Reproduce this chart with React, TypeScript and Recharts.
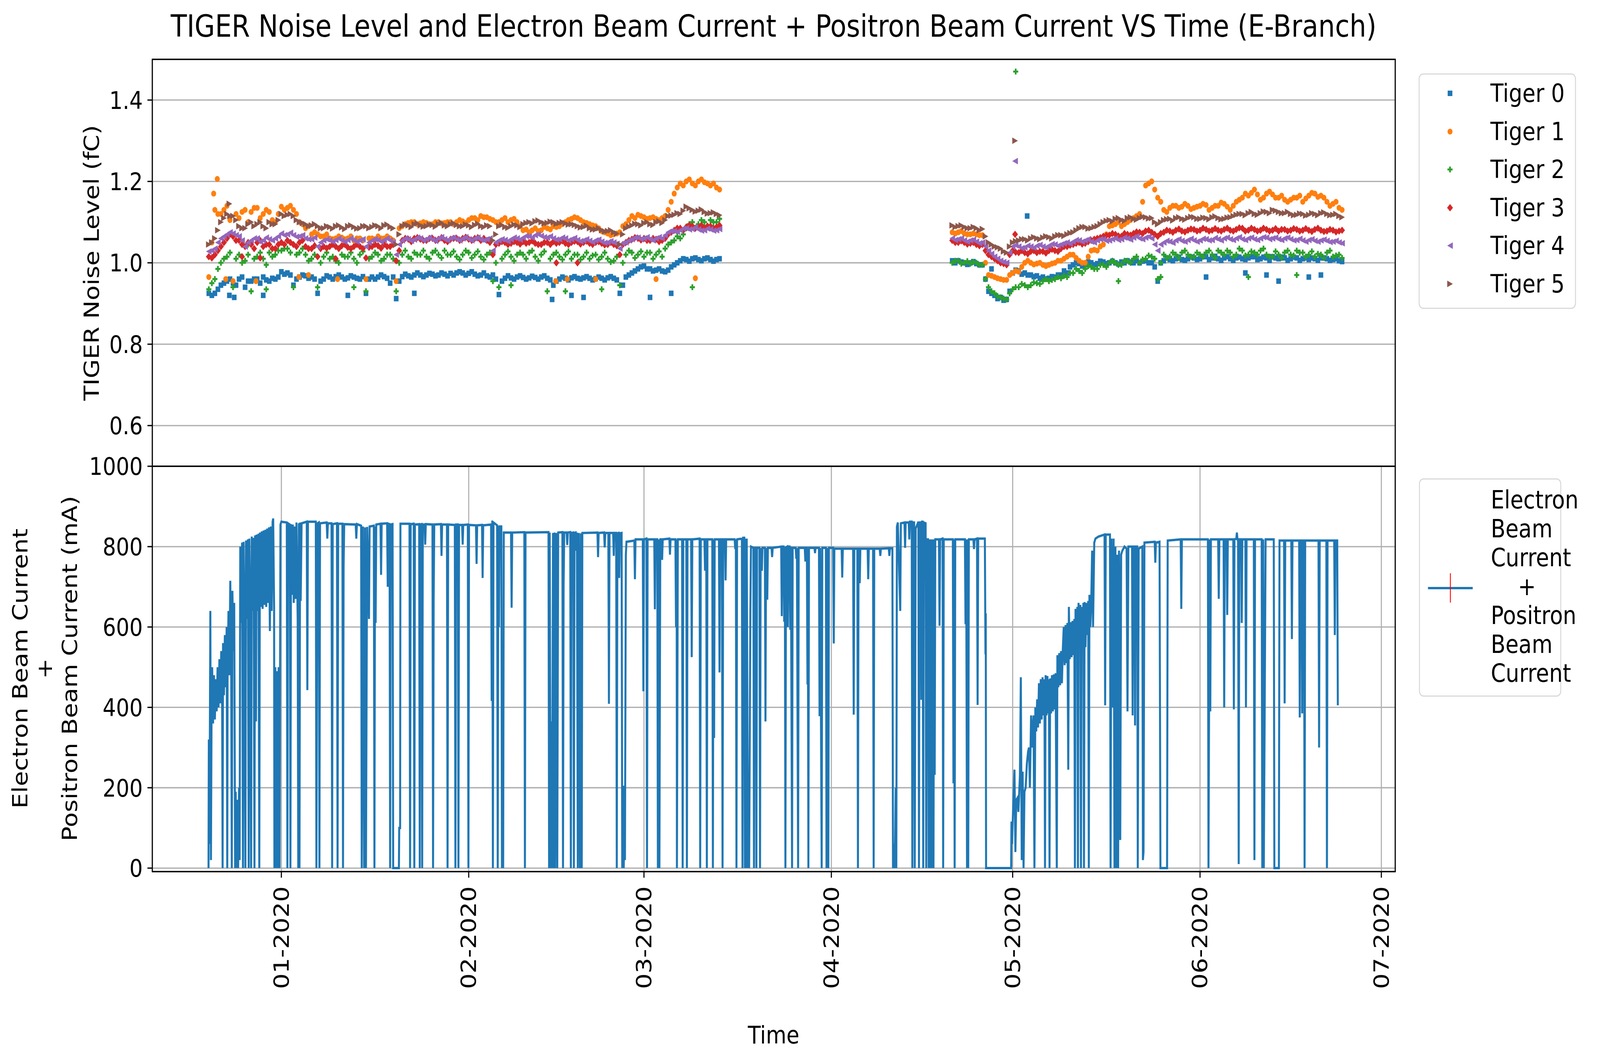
import React from 'react'
import {
  CartesianGrid,
  Label,
  Legend,
  Line,
  LineChart,
  ReferenceArea,
  Scatter,
  ScatterChart,
  XAxis,
  YAxis,
} from 'recharts'

const FONT = "'DejaVu Sans', sans-serif"
const CHART_W = 4790
const CHART_H = 2717

// x values are days since 2020-01-01
const X_DOMAIN: [number, number] = [-21.35, 184.3]
const monthStarts = ['2020-01-01', '2020-02-01', '2020-03-01', '2020-04-01', '2020-05-01', '2020-06-01', '2020-07-01']
const monthLabels = ['01-2020', '02-2020', '03-2020', '04-2020', '05-2020', '06-2020', '07-2020']
const noiseTicks = [0.6, 0.8, 1.0, 1.2, 1.4]
const beamTicks = [0, 200, 400, 600, 800, 1000]

// first run starts 2019-12-20, second run 2020-04-21; two readings a day (a at 00h, b at 12h)
const firstRunStart = -12
const secondRunStart = 111

const tiger0Run1a = [
  0.925, 0.925, 0.945, 0.955, 0.95, 0.96, 0.94, 0.955, 0.96, 0.965, 0.955, 0.96,
  0.978, 0.975, 0.945, 0.965, 0.968, 0.965, 0.925, 0.96, 0.965, 0.966,
  0.965, 0.963, 0.965, 0.96, 0.925, 0.965, 0.965, 0.966, 0.95, 0.912,
  0.966, 0.968, 0.97, 0.97, 0.97, 0.972, 0.97, 0.972, 0.974, 0.975,
  0.975, 0.974, 0.972, 0.97, 0.968, 0.97, 0.922, 0.962, 0.963, 0.965,
  0.964, 0.963, 0.964, 0.965, 0.962, 0.945, 0.96, 0.962, 0.963, 0.962,
  0.963, 0.962, 0.961, 0.962, 0.963, 0.962, 0.925, 0.965, 0.975, 0.985,
  0.992, 0.985, 0.982, 0.98, 0.982, 0.995, 1.005, 1.008, 1.01, 1.008,
  1.01, 1.008, 1.008,
]
const tiger0Run1b = [
  0.92, 0.935, 0.95, 0.96, 0.945, 0.965, 0.955, 0.96, 0.95, 0.958, 0.962, 0.965,
  0.972, 0.97, 0.96, 0.97, 0.962, 0.96, 0.955, 0.968, 0.96, 0.97,
  0.96, 0.968, 0.962, 0.966, 0.96, 0.96, 0.97, 0.962, 0.965, 0.955,
  0.972, 0.965, 0.975, 0.966, 0.974, 0.968, 0.975, 0.968, 0.97, 0.978,
  0.97, 0.978, 0.968, 0.975, 0.965, 0.96, 0.955, 0.968, 0.96, 0.968,
  0.96, 0.967, 0.96, 0.968, 0.958, 0.955, 0.965, 0.958, 0.966, 0.96,
  0.966, 0.958, 0.965, 0.958, 0.966, 0.958, 0.945, 0.97, 0.98, 0.99,
  0.985, 0.98, 0.985, 0.978, 0.99, 1.0, 1.01, 1.004, 1.012, 1.005,
  1.012, 1.004, 1.01,
]
const tiger0Run2a = [
  1.005, 1.005, 1.0, 1.0, 0.998, 0.995, 0.93, 0.92, 0.915, 0.91,
  0.975, 0.98, 0.975, 0.97, 0.968, 0.965, 0.962, 0.965, 0.97, 0.975,
  0.995, 0.998, 0.995, 1.0, 0.998, 1.002, 1.0, 1.0, 1.002, 1.005,
  1.0, 1.0, 1.005, 1.0, 0.955, 1.005, 1.008, 1.01, 1.008, 1.01,
  1.012, 1.01, 1.015, 1.012, 1.01, 1.012, 1.01, 1.012, 1.01, 1.012,
  1.015, 1.01, 1.012, 1.015, 1.01, 1.012, 1.01, 1.012, 1.01, 1.008,
  1.01, 1.012, 1.01, 1.008, 1.005,
]
const tiger0Run2b = [
  1.0, 1.002, 0.996, 1.003, 0.995, 0.96, 0.925, 0.912, 0.908, 0.93,
  0.982, 0.972, 0.97, 0.966, 0.962, 0.96, 0.966, 0.97, 0.98, 0.99,
  1.0, 0.992, 1.002, 0.995, 1.004, 0.998, 1.004, 0.997, 1.0, 1.002,
  1.005, 1.004, 1.0, 0.99, 1.0, 1.012, 1.005, 1.014, 1.006, 1.014,
  1.008, 1.016, 1.008, 1.016, 1.006, 1.015, 1.006, 1.014, 1.008, 1.015,
  1.008, 1.014, 1.006, 1.012, 1.014, 1.006, 1.014, 1.006, 1.012, 1.012,
  1.006, 1.012, 1.006, 1.01, 1.003,
]
const tiger0Extra: [number, number][] = [
  [-8.6, 0.92], [-7.8, 0.915], [-3, 0.92], [11, 0.92], [22, 0.925], [44.8, 0.91], [48, 0.92],
  [50, 0.915], [61, 0.915], [64.5, 0.925], [117.5, 0.985], [123.4, 1.115], [153, 0.965],
  [159.5, 0.975], [163, 0.97], [165, 0.955], [170, 0.965], [172, 0.97],
]

const tiger1Run1a = [
  0.965, 1.13, 1.12, 1.14, 0.955, 1.11, 1.13, 1.125, 1.135, 1.12, 1.125, 1.1,
  1.138, 1.135, 1.13, 1.1, 1.085, 1.07, 1.07, 1.065, 1.06, 1.06,
  1.062, 1.06, 1.055, 1.06, 0.96, 1.06, 1.065, 1.06, 1.06, 0.955,
  1.09, 1.098, 1.1, 1.097, 1.098, 1.095, 1.1, 1.098, 1.1, 1.1,
  1.102, 1.105, 1.11, 1.115, 1.112, 1.105, 1.1, 1.11, 1.105, 1.1,
  1.08, 1.075, 1.085, 1.08, 1.085, 1.09, 1.09, 1.1, 1.108, 1.11,
  1.1, 1.095, 1.09, 1.078, 1.072, 1.07, 1.075, 1.095, 1.115, 1.118,
  1.112, 1.11, 1.108, 1.11, 1.13, 1.17, 1.195, 1.2, 1.195, 1.2,
  1.198, 1.19, 1.185,
]
const tiger1Run1b = [
  1.05, 1.12, 1.13, 1.105, 1.12, 1.125, 1.1, 1.135, 1.11, 1.13, 1.105, 1.12,
  1.13, 1.14, 1.12, 1.095, 1.09, 1.075, 1.065, 1.07, 1.058, 1.065,
  1.058, 1.065, 1.06, 1.055, 1.06, 1.058, 1.06, 1.065, 1.055, 1.085,
  1.095, 1.1, 1.095, 1.1, 1.095, 1.1, 1.097, 1.1, 1.095, 1.105,
  1.098, 1.11, 1.105, 1.112, 1.108, 1.1, 1.105, 1.1, 1.108, 1.09,
  1.082, 1.08, 1.078, 1.088, 1.082, 1.088, 1.095, 1.105, 1.112, 1.105,
  1.098, 1.092, 1.085, 1.075, 1.068, 1.072, 1.09, 1.105, 1.11, 1.115,
  1.108, 1.112, 1.105, 1.115, 1.15, 1.185, 1.19, 1.205, 1.19, 1.205,
  1.195, 1.195, 1.18,
]
const tiger1Run2a = [
  1.075, 1.075, 1.072, 1.07, 1.07, 1.068, 0.97, 0.965, 0.96, 0.958,
  0.975, 0.978, 1.0, 1.0, 0.998, 0.995, 0.995, 1.0, 1.005, 1.015,
  1.02, 1.005, 1.0, 1.03, 1.03, 1.045, 1.09, 1.095, 1.09, 1.1,
  1.11, 1.12, 1.19, 1.2, 1.16, 1.13, 1.135, 1.14, 1.138, 1.14,
  1.135, 1.14, 1.142, 1.135, 1.14, 1.145, 1.13, 1.15, 1.16, 1.165,
  1.18, 1.155, 1.17, 1.168, 1.16, 1.155, 1.155, 1.16, 1.15, 1.165,
  1.17, 1.165, 1.15, 1.145, 1.135,
]
const tiger1Run2b = [
  1.072, 1.078, 1.07, 1.072, 1.068, 1.0, 0.968, 0.962, 0.958, 0.97,
  0.98, 0.99, 1.005, 0.996, 1.0, 0.992, 0.998, 1.005, 1.01, 1.02,
  1.012, 1.0, 1.015, 1.032, 1.04, 1.07, 1.092, 1.1, 1.095, 1.105,
  1.115, 1.15, 1.195, 1.18, 1.15, 1.125, 1.14, 1.135, 1.145, 1.132,
  1.138, 1.145, 1.13, 1.14, 1.148, 1.138, 1.14, 1.155, 1.17, 1.172,
  1.168, 1.16, 1.175, 1.16, 1.165, 1.15, 1.16, 1.165, 1.158, 1.172,
  1.162, 1.16, 1.14, 1.15, 1.13,
]
const tiger1Extra: [number, number][] = [
  [-11.2, 1.17], [-10.6, 1.206], [-9.2, 0.96], [-4.2, 0.955], [2.9, 0.965], [4.5, 0.97],
  [9.3, 0.96], [45.4, 0.955], [47.3, 0.96], [52, 0.96], [62, 0.96], [68.5, 0.962],
]

const tiger2Run1a = [
  0.935, 0.96, 1.0, 1.015, 0.94, 1.02, 1.005, 0.93, 1.015, 1.01, 1.025, 1.02,
  1.03, 1.035, 0.94, 1.025, 1.02, 1.01, 0.94, 1.015, 1.01, 1.005,
  1.02, 1.015, 1.01, 1.02, 0.93, 1.015, 1.02, 1.01, 1.02, 0.93,
  1.02, 1.015, 1.025, 1.02, 1.015, 1.025, 1.02, 1.03, 1.02, 1.015,
  1.02, 1.025, 1.02, 1.015, 1.02, 0.955, 0.94, 1.02, 1.015, 1.02,
  1.02, 1.025, 1.015, 1.02, 0.93, 1.02, 1.015, 1.02, 1.01, 1.02,
  1.015, 1.01, 1.02, 1.015, 1.01, 1.005, 0.945, 1.02, 1.025, 1.02,
  1.015, 1.025, 1.02, 1.015, 1.045, 1.055, 1.06, 1.085, 1.1, 1.095,
  1.1, 1.105, 1.1,
]
const tiger2Run1b = [
  0.95, 0.985, 1.01, 1.025, 1.01, 1.0, 1.02, 1.01, 1.025, 0.995, 1.015, 1.03,
  1.035, 1.025, 1.02, 1.035, 1.005, 1.02, 1.0, 1.025, 1.015, 1.0,
  1.015, 1.025, 1.0, 1.028, 1.01, 1.025, 1.005, 1.02, 1.01, 1.0,
  1.03, 1.01, 1.02, 1.03, 1.01, 1.03, 1.012, 1.02, 1.028, 1.008,
  1.03, 1.012, 1.028, 1.008, 1.025, 1.0, 1.01, 1.028, 1.005, 1.025,
  1.01, 1.03, 1.005, 1.028, 1.01, 1.025, 1.008, 1.028, 1.02, 1.008,
  1.025, 1.018, 1.008, 1.025, 1.002, 1.015, 1.0, 1.03, 1.012, 1.028,
  1.025, 1.01, 1.028, 1.035, 1.05, 1.065, 1.07, 1.095, 1.085, 1.105,
  1.09, 1.1, 1.108,
]
const tiger2Run2a = [
  1.0, 1.005, 1.0, 0.998, 1.0, 0.995, 0.94, 0.925, 0.915, 0.91,
  0.935, 0.94, 0.945, 0.945, 0.95, 0.955, 0.955, 0.96, 0.962, 0.965,
  0.975, 0.98, 0.985, 0.99, 0.985, 0.995, 1.0, 1.0, 0.995, 1.005,
  1.01, 1.0, 1.01, 1.015, 0.96, 1.02, 1.015, 1.02, 1.025, 1.02,
  1.015, 1.02, 1.025, 1.02, 1.03, 1.02, 1.025, 1.02, 1.03, 1.02,
  1.025, 1.03, 1.02, 1.015, 1.02, 1.025, 1.02, 1.03, 1.025, 1.02,
  1.015, 1.02, 1.025, 1.015, 1.02,
]
const tiger2Run2b = [
  1.005, 0.998, 1.004, 1.002, 0.995, 0.96, 0.93, 0.918, 0.912, 0.925,
  0.94, 0.948, 0.94, 0.952, 0.948, 0.96, 0.958, 0.965, 0.968, 0.975,
  0.985, 0.975, 0.992, 0.985, 0.995, 0.99, 1.005, 0.995, 1.005, 1.0,
  1.015, 1.008, 1.018, 1.01, 1.0, 1.012, 1.025, 1.012, 1.03, 1.015,
  1.025, 1.015, 1.03, 1.012, 1.025, 1.03, 1.015, 1.035, 1.018, 1.028,
  1.02, 1.035, 1.015, 1.028, 1.012, 1.03, 1.018, 1.025, 1.015, 1.028,
  1.022, 1.012, 1.03, 1.018, 1.012,
]
const tiger2Extra: [number, number][] = [
  [-5.5, 1.045], [1.5, 1.05], [-2.5, 0.935], [12, 0.94], [38, 0.945], [47, 0.93], [53, 0.935],
  [68, 0.94], [121.5, 1.47], [138.5, 0.955], [145.5, 0.965], [160, 0.965], [168, 0.97],
]

const tiger3Run1a = [
  1.015, 1.02, 1.04, 1.06, 1.065, 1.055, 1.04, 1.045, 1.05, 1.04, 1.045, 1.035,
  1.05, 1.055, 1.045, 1.05, 1.04, 1.035, 1.015, 1.04, 1.04, 1.04,
  1.042, 1.038, 1.04, 1.04, 1.012, 1.04, 1.042, 1.045, 1.04, 1.005,
  1.055, 1.058, 1.06, 1.058, 1.055, 1.06, 1.058, 1.055, 1.058, 1.06,
  1.06, 1.058, 1.06, 1.055, 1.055, 1.02, 1.048, 1.05, 1.048, 1.05,
  1.052, 1.05, 1.048, 1.045, 1.05, 1.052, 1.05, 1.048, 1.05, 1.052,
  1.05, 1.048, 1.05, 1.048, 1.045, 1.045, 1.02, 1.05, 1.058, 1.06,
  1.06, 1.055, 1.058, 1.055, 1.07, 1.08, 1.085, 1.088, 1.09, 1.088,
  1.085, 1.09, 1.088,
]
const tiger3Run1b = [
  1.012, 1.03, 1.05, 1.07, 1.055, 1.045, 1.05, 1.035, 1.055, 1.045, 1.035, 1.045,
  1.045, 1.05, 1.04, 1.055, 1.035, 1.042, 1.035, 1.036, 1.045, 1.035,
  1.045, 1.035, 1.045, 1.035, 1.038, 1.045, 1.036, 1.04, 1.045, 1.03,
  1.06, 1.052, 1.062, 1.055, 1.06, 1.055, 1.062, 1.052, 1.06, 1.055,
  1.063, 1.055, 1.062, 1.06, 1.05, 1.045, 1.052, 1.045, 1.052, 1.046,
  1.048, 1.054, 1.045, 1.05, 1.045, 1.048, 1.054, 1.045, 1.053, 1.046,
  1.053, 1.045, 1.052, 1.044, 1.05, 1.042, 1.045, 1.055, 1.062, 1.056,
  1.055, 1.06, 1.052, 1.06, 1.075, 1.085, 1.08, 1.092, 1.085, 1.092,
  1.09, 1.085, 1.092,
]
const tiger3Run2a = [
  1.055, 1.05, 1.05, 1.048, 1.045, 1.045, 1.02, 1.01, 1.0, 0.995,
  1.03, 1.025, 1.025, 1.028, 1.025, 1.028, 1.03, 1.03, 1.035, 1.04,
  1.045, 1.05, 1.048, 1.055, 1.06, 1.065, 1.068, 1.07, 1.065, 1.07,
  1.072, 1.075, 1.078, 1.075, 1.065, 1.075, 1.078, 1.08, 1.078, 1.08,
  1.082, 1.08, 1.082, 1.08, 1.08, 1.082, 1.08, 1.082, 1.085, 1.08,
  1.082, 1.08, 1.082, 1.08, 1.078, 1.082, 1.08, 1.082, 1.08, 1.08,
  1.082, 1.08, 1.078, 1.08, 1.078,
]
const tiger3Run2b = [
  1.05, 1.054, 1.046, 1.05, 1.042, 1.03, 1.015, 1.005, 0.998, 1.02,
  1.026, 1.03, 1.022, 1.03, 1.028, 1.024, 1.033, 1.028, 1.04, 1.043,
  1.048, 1.046, 1.052, 1.058, 1.062, 1.067, 1.072, 1.066, 1.072, 1.068,
  1.076, 1.072, 1.08, 1.07, 1.072, 1.08, 1.075, 1.083, 1.076, 1.083,
  1.078, 1.085, 1.078, 1.084, 1.078, 1.085, 1.078, 1.086, 1.078, 1.085,
  1.078, 1.085, 1.078, 1.084, 1.082, 1.078, 1.084, 1.078, 1.084, 1.077,
  1.085, 1.077, 1.082, 1.076, 1.08,
]
const tiger3Extra: [number, number][] = [
  [-6.5, 1.015], [-3.5, 1.012], [9, 1.01], [45.5, 1.0], [49, 1.0], [121.4, 1.07],
]

const tiger4Run1a = [
  1.028, 1.035, 1.06, 1.07, 1.072, 1.065, 1.04, 1.055, 1.06, 1.055, 1.058, 1.06,
  1.072, 1.07, 1.068, 1.065, 1.06, 1.058, 1.04, 1.055, 1.055, 1.056,
  1.055, 1.056, 1.055, 1.055, 1.04, 1.055, 1.056, 1.056, 1.055, 1.02,
  1.055, 1.058, 1.057, 1.06, 1.058, 1.057, 1.06, 1.058, 1.06, 1.058,
  1.06, 1.058, 1.06, 1.057, 1.058, 1.03, 1.055, 1.056, 1.058, 1.06,
  1.062, 1.065, 1.068, 1.066, 1.062, 1.06, 1.058, 1.06, 1.058, 1.056,
  1.055, 1.054, 1.055, 1.052, 1.05, 1.05, 1.035, 1.05, 1.058, 1.062,
  1.06, 1.058, 1.06, 1.06, 1.075, 1.078, 1.08, 1.085, 1.083, 1.082,
  1.08, 1.082, 1.08,
]
const tiger4Run1b = [
  1.03, 1.05, 1.065, 1.075, 1.068, 1.055, 1.05, 1.06, 1.052, 1.062, 1.055, 1.065,
  1.068, 1.074, 1.064, 1.068, 1.058, 1.062, 1.05, 1.058, 1.052, 1.06,
  1.052, 1.06, 1.052, 1.058, 1.05, 1.058, 1.052, 1.06, 1.05, 1.045,
  1.06, 1.054, 1.062, 1.055, 1.062, 1.054, 1.063, 1.055, 1.062, 1.055,
  1.063, 1.055, 1.062, 1.055, 1.06, 1.05, 1.058, 1.053, 1.062, 1.057,
  1.066, 1.062, 1.07, 1.063, 1.065, 1.057, 1.062, 1.055, 1.061, 1.053,
  1.058, 1.051, 1.057, 1.049, 1.053, 1.047, 1.048, 1.055, 1.062, 1.058,
  1.063, 1.055, 1.063, 1.068, 1.078, 1.076, 1.084, 1.082, 1.087, 1.079,
  1.084, 1.079, 1.083,
]
const tiger4Run2a = [
  1.06, 1.058, 1.055, 1.055, 1.052, 1.05, 1.03, 1.015, 1.005, 1.0,
  1.04, 1.04, 1.038, 1.04, 1.042, 1.04, 1.042, 1.045, 1.045, 1.05,
  1.052, 1.055, 1.055, 1.052, 1.055, 1.058, 1.055, 1.06, 1.058, 1.06,
  1.062, 1.06, 1.062, 1.06, 1.03, 1.05, 1.052, 1.055, 1.054, 1.056,
  1.055, 1.055, 1.058, 1.056, 1.058, 1.06, 1.058, 1.06, 1.058, 1.06,
  1.058, 1.06, 1.062, 1.06, 1.058, 1.06, 1.058, 1.056, 1.055, 1.056,
  1.054, 1.055, 1.054, 1.052, 1.05,
]
const tiger4Run2b = [
  1.056, 1.06, 1.052, 1.057, 1.048, 1.04, 1.022, 1.01, 1.002, 1.025,
  1.043, 1.036, 1.042, 1.037, 1.044, 1.038, 1.046, 1.042, 1.048, 1.047,
  1.056, 1.052, 1.058, 1.05, 1.058, 1.054, 1.058, 1.056, 1.062, 1.057,
  1.065, 1.058, 1.064, 1.045, 1.045, 1.054, 1.049, 1.058, 1.052, 1.059,
  1.052, 1.059, 1.055, 1.061, 1.055, 1.062, 1.056, 1.063, 1.056, 1.062,
  1.056, 1.063, 1.058, 1.062, 1.056, 1.062, 1.055, 1.059, 1.052, 1.058,
  1.052, 1.057, 1.051, 1.054, 1.048,
]
const tiger4Extra: [number, number][] = [[121.4, 1.25]]

const tiger5Run1a = [
  1.045, 1.06, 1.1, 1.12, 1.115, 1.09, 1.085, 1.1, 1.095, 1.09, 1.1, 1.095,
  1.12, 1.118, 1.115, 1.1, 1.095, 1.092, 1.09, 1.085, 1.088, 1.09,
  1.087, 1.09, 1.088, 1.085, 1.09, 1.088, 1.09, 1.092, 1.088, 1.045,
  1.09, 1.092, 1.095, 1.092, 1.09, 1.093, 1.095, 1.092, 1.095, 1.093,
  1.09, 1.092, 1.093, 1.09, 1.092, 1.055, 1.09, 1.088, 1.09, 1.092,
  1.095, 1.1, 1.102, 1.1, 1.098, 1.1, 1.098, 1.097, 1.095, 1.09,
  1.088, 1.085, 1.082, 1.08, 1.078, 1.075, 1.045, 1.085, 1.092, 1.095,
  1.098, 1.095, 1.1, 1.098, 1.115, 1.118, 1.12, 1.138, 1.13, 1.128,
  1.125, 1.122, 1.12,
]
const tiger5Run1b = [
  1.05, 1.08, 1.11, 1.115, 1.105, 1.085, 1.095, 1.09, 1.1, 1.085, 1.095, 1.105,
  1.115, 1.12, 1.105, 1.098, 1.09, 1.095, 1.085, 1.09, 1.084, 1.092,
  1.083, 1.092, 1.084, 1.09, 1.085, 1.092, 1.085, 1.094, 1.085, 1.07,
  1.094, 1.088, 1.097, 1.089, 1.094, 1.089, 1.098, 1.09, 1.097, 1.09,
  1.094, 1.088, 1.096, 1.088, 1.09, 1.07, 1.093, 1.086, 1.094, 1.088,
  1.098, 1.097, 1.104, 1.097, 1.101, 1.096, 1.1, 1.094, 1.093, 1.087,
  1.091, 1.082, 1.085, 1.077, 1.08, 1.072, 1.07, 1.089, 1.096, 1.092,
  1.1, 1.093, 1.102, 1.105, 1.116, 1.122, 1.128, 1.134, 1.126, 1.131,
  1.121, 1.124, 1.117,
]
const tiger5Run2a = [
  1.092, 1.09, 1.088, 1.085, 1.085, 1.083, 1.05, 1.04, 1.035, 1.025,
  1.05, 1.055, 1.058, 1.06, 1.06, 1.062, 1.063, 1.065, 1.068, 1.07,
  1.075, 1.085, 1.088, 1.085, 1.09, 1.1, 1.105, 1.108, 1.105, 1.11,
  1.108, 1.11, 1.112, 1.11, 1.095, 1.105, 1.108, 1.11, 1.108, 1.11,
  1.112, 1.108, 1.11, 1.112, 1.11, 1.108, 1.112, 1.118, 1.12, 1.122,
  1.12, 1.122, 1.125, 1.13, 1.125, 1.122, 1.12, 1.118, 1.12, 1.118,
  1.12, 1.122, 1.12, 1.118, 1.115,
]
const tiger5Run2b = [
  1.088, 1.092, 1.085, 1.088, 1.08, 1.065, 1.045, 1.038, 1.028, 1.04,
  1.053, 1.058, 1.055, 1.063, 1.058, 1.065, 1.06, 1.068, 1.066, 1.073,
  1.08, 1.088, 1.084, 1.088, 1.095, 1.103, 1.102, 1.11, 1.103, 1.112,
  1.106, 1.113, 1.109, 1.1, 1.1, 1.107, 1.104, 1.112, 1.106, 1.113,
  1.108, 1.111, 1.107, 1.114, 1.107, 1.111, 1.115, 1.12, 1.117, 1.125,
  1.118, 1.126, 1.122, 1.128, 1.122, 1.125, 1.117, 1.121, 1.116, 1.122,
  1.117, 1.124, 1.117, 1.12, 1.112,
]
const tiger5Extra: [number, number][] = [[-8.6, 1.145], [121.4, 1.3]]

// summed beam current, [day, mA]
const beamDec: [number, number][] = [
  [-12.05, 0], [-12.0, 320], [-11.9, 60], [-11.75, 640], [-11.65, 20], [-11.55, 380], [-11.45, 500],
  [-11.3, 360], [-11.15, 480], [-11.0, 370], [-10.85, 470], [-10.7, 390], [-10.55, 500], [-10.4, 400],
  [-10.25, 520], [-10.1, 410], [-9.95, 540], [-9.8, 420], [-9.72, 0], [-9.65, 560], [-9.5, 430],
  [-9.35, 580], [-9.2, 450], [-9.05, 600], [-8.95, 0], [-8.9, 470], [-8.75, 640], [-8.6, 480],
  [-8.45, 715], [-8.3, 520], [-8.2, 0], [-8.1, 690], [-7.95, 540], [-7.8, 660], [-7.65, 0],
  [-7.55, 190], [-7.45, 0], [-7.3, 170], [-7.15, 0], [-7.0, 200], [-6.9, 20],
  [-6.8, 800], [-6.65, 610], [-6.5, 810], [-6.35, 0], [-6.25, 812], [-6.1, 600], [-5.95, 0],
  [-5.85, 815], [-5.7, 620], [-5.55, 818], [-5.4, 0], [-5.3, 820], [-5.15, 630], [-5.0, 0],
  [-4.9, 825], [-4.75, 640], [-4.6, 822], [-4.45, 0], [-4.35, 828], [-4.2, 365], [-4.1, 830],
  [-3.95, 640], [-3.8, 832], [-3.65, 0], [-3.55, 835], [-3.4, 650], [-3.25, 838], [-3.1, 645],
  [-2.95, 840], [-2.8, 655], [-2.65, 842], [-2.5, 650], [-2.35, 845], [-2.2, 660], [-2.05, 848],
  [-1.9, 590], [-1.75, 850], [-1.6, 640], [-1.45, 862], [-1.35, 870], [-1.2, 650], [-1.15, 0],
  [-1.0, 500], [-0.85, 0], [-0.7, 490], [-0.56, 0], [-0.45, 500], [-0.3, 0], [-0.15, 855],
]
const beamJan: [number, number][] = [
  [0.0, 862], [0.9, 860], [1.0, 0], [1.1, 858], [1.4, 855], [1.5, 0], [1.6, 856], [1.75, 680],
  [1.9, 855], [2.05, 660], [2.2, 850], [2.35, 670], [2.5, 860], [2.7, 620], [2.8, 0], [2.9, 858],
  [3.0, 0], [3.1, 860], [3.2, 665], [3.35, 858], [4.2, 862], [4.3, 443], [4.4, 862], [5.7, 862],
  [5.8, 0], [5.9, 510], [6.0, 858], [6.2, 860], [6.3, 0], [6.4, 858], [7.5, 860], [7.6, 820], [7.7, 858],
  [8.3, 858], [8.4, 0], [8.5, 856], [9.2, 858], [9.3, 0], [9.4, 857], [10.1, 857], [10.2, 0], [10.3, 750],
  [10.4, 856], [12.3, 855], [12.4, 820], [12.5, 856], [13.2, 852], [13.3, 0], [13.5, 850], [13.7, 0],
  [13.85, 848], [14.0, 0], [14.2, 849], [14.5, 620], [14.6, 850], [15.3, 852], [15.4, 0], [15.5, 850],
  [15.6, 610], [15.7, 855], [16.4, 857], [16.5, 730], [16.6, 857], [17.5, 858], [17.6, 700], [17.7, 857],
  [17.9, 856], [18.0, 0], [18.1, 855], [18.4, 856], [18.5, 0], [19.45, 0], [19.5, 100], [19.65, 100],
  [19.7, 857], [21.2, 857], [21.3, 0], [21.4, 856], [21.9, 857], [22.0, 0], [22.1, 855], [22.8, 856],
  [22.9, 0], [23.0, 855], [23.2, 856], [23.3, 0], [23.4, 855], [23.7, 855], [23.8, 805], [23.9, 856],
  [25.0, 855], [25.1, 0], [25.2, 668], [25.3, 855], [26.4, 856], [26.5, 777], [26.6, 855], [27.4, 855],
  [27.5, 0], [27.6, 855], [28.7, 854], [28.8, 0], [28.9, 855], [29.2, 855], [29.3, 0], [29.4, 854],
  [29.9, 854], [30.0, 805], [30.1, 854], [30.85, 855], [30.95, 0],
]
const beamFeb: [number, number][] = [
  [31.05, 854], [32.2, 853], [32.3, 757], [32.4, 853], [33.2, 854], [33.3, 722], [33.4, 853], [34.7, 855],
  [34.8, 416], [34.9, 865], [35.0, 0], [35.1, 860], [35.7, 853], [35.8, 0], [35.9, 852], [36.0, 600],
  [36.1, 850], [36.4, 850], [36.5, 0], [36.6, 252], [36.7, 0], [36.8, 835], [38.0, 835], [38.1, 648],
  [38.2, 835], [40.2, 836], [40.3, 0], [40.4, 835], [44.2, 836], [44.3, 0], [44.4, 835], [44.55, 0],
  [44.7, 365], [44.8, 0], [44.95, 834], [45.05, 0], [45.2, 835], [45.3, 0], [45.5, 834], [45.65, 0],
  [45.8, 835], [46.5, 836], [46.6, 0], [46.7, 702], [46.8, 835], [47.2, 835], [47.3, 804], [47.4, 835],
  [47.8, 836], [47.9, 0], [48.0, 834], [48.3, 835], [48.4, 0], [48.5, 834], [48.7, 835], [48.8, 790],
  [48.9, 835], [49.05, 0], [49.2, 834], [49.4, 0], [49.55, 833], [49.7, 0], [49.8, 834], [52.3, 835],
  [52.4, 774], [52.5, 834], [53.4, 835], [53.5, 798], [53.6, 834], [54.1, 834], [54.2, 409], [54.3, 834],
  [54.9, 834], [55.0, 777], [55.1, 834], [55.4, 834], [55.5, 0], [55.6, 833], [55.8, 834], [55.9, 722],
  [56.0, 833], [56.3, 834], [56.4, 0], [56.55, 205], [56.65, 0], [56.75, 100], [56.85, 20], [57.0, 780],
  [57.1, 812], [58.4, 815], [58.5, 719], [58.6, 818], [59.0, 818],
]
const beamMar: [number, number][] = [
  [59.8, 818], [59.9, 440], [60.0, 818], [60.4, 820], [60.5, 0], [60.6, 818], [61.7, 818], [61.8, 644],
  [61.9, 818], [62.2, 818], [62.3, 0], [62.45, 818], [62.55, 0], [62.7, 818], [62.9, 818], [63.0, 767],
  [63.1, 818], [64.2, 820], [64.3, 780], [64.4, 818], [65.2, 818], [65.3, 600], [65.4, 818], [65.45, 0],
  [65.6, 818], [66.3, 818], [66.4, 0], [66.5, 818], [67.0, 818], [67.1, 0], [67.2, 818], [67.8, 818],
  [67.9, 525], [68.0, 818], [69.2, 820], [69.3, 0], [69.4, 818], [70.0, 818], [70.1, 740], [70.2, 818],
  [70.3, 818], [70.4, 0], [70.5, 818], [71.3, 818], [71.4, 0], [71.5, 818], [71.6, 324], [71.7, 818],
  [72.4, 818], [72.5, 487], [72.6, 818], [72.9, 818], [73.0, 0], [73.1, 818], [73.4, 818], [73.5, 716],
  [73.6, 818], [75.0, 818], [75.1, 794], [75.2, 818], [75.3, 0], [75.4, 818], [76.2, 820], [76.3, 0],
  [76.4, 822], [76.6, 822], [76.7, 0], [76.8, 820], [76.9, 0], [77.0, 820], [77.2, 0], [77.3, 184],
  [77.4, 0], [77.6, 640], [77.7, 800], [78.1, 797], [78.2, 0], [78.3, 797], [78.5, 797], [78.6, 0],
  [78.7, 797], [79.1, 797], [79.2, 0], [79.3, 797], [79.5, 740], [79.6, 797], [80.0, 797], [80.1, 365],
  [80.2, 797], [80.4, 668], [80.5, 797], [81.1, 797], [81.2, 774], [81.3, 797], [82.7, 800], [82.8, 627],
  [82.9, 800], [83.1, 800], [83.2, 613], [83.3, 800], [83.4, 0], [83.5, 798], [83.7, 800], [83.8, 600],
  [83.9, 800], [84.1, 800], [84.2, 593], [84.3, 800], [84.5, 0], [84.6, 797], [85.1, 797], [85.2, 770],
  [85.3, 797], [85.5, 0], [85.6, 797], [86.6, 797], [86.7, 763], [86.8, 797], [86.95, 797], [87.05, 457],
  [87.1, 797], [87.2, 0], [87.3, 797], [88.2, 797], [88.3, 784], [88.4, 797], [88.95, 797], [89.05, 378],
  [89.15, 797], [89.4, 0], [89.5, 797], [90.1, 797], [90.2, 0], [90.3, 797], [90.5, 0], [90.6, 797],
]
const beamApr: [number, number][] = [
  [91.3, 797], [91.4, 559], [91.5, 795], [92.7, 795], [92.8, 723], [92.9, 795], [94.6, 795], [94.7, 382],
  [94.8, 795], [95.3, 795], [95.4, 0], [95.5, 795], [95.6, 795], [95.7, 709], [95.8, 795], [97.0, 795],
  [97.1, 719], [97.2, 795], [97.9, 795], [98.0, 0], [98.1, 795], [99.0, 795], [99.1, 777], [99.2, 795],
  [100.5, 796], [100.6, 777], [100.7, 796], [101.1, 796], [101.2, 0], [101.35, 61], [101.5, 0],
  [101.65, 200], [101.75, 0], [101.85, 850], [102.0, 860], [102.4, 640], [102.5, 858], [103.1, 860],
  [103.2, 797], [103.3, 860], [103.8, 860], [103.9, 818], [104.0, 862], [104.3, 862], [104.4, 0],
  [104.55, 860], [104.7, 860], [104.8, 0], [104.95, 845], [105.4, 862], [105.5, 0], [105.6, 860],
  [105.8, 860], [105.9, 419], [106.0, 862], [106.1, 862], [106.2, 0], [106.3, 860], [106.6, 858],
  [106.7, 0], [106.8, 818], [107.0, 818], [107.1, 0], [107.2, 818], [107.3, 0], [107.45, 818], [107.6, 0],
  [107.75, 818], [107.9, 0], [108.0, 818], [108.1, 232], [108.2, 818], [108.8, 818], [108.9, 603],
  [109.0, 818], [109.4, 820], [109.5, 0], [109.6, 818], [111.1, 818], [111.2, 211], [111.3, 818],
  [111.4, 0], [111.5, 818], [113.1, 818], [113.2, 607], [113.3, 818], [113.45, 0], [113.55, 818],
  [113.65, 0], [113.75, 818], [114.5, 818], [114.6, 794], [114.7, 818], [115.1, 820], [115.2, 406],
  [115.3, 820], [116.4, 820], [116.5, 532], [116.55, 634], [116.6, 0], [120.75, 0], [120.8, 116],
  [120.9, 60],
]
const beamMay: [number, number][] = [
  [121.1, 160], [121.3, 245], [121.45, 40], [121.6, 170], [121.8, 175], [121.95, 140], [122.2, 230],
  [122.35, 475], [122.5, 20], [122.65, 240], [122.8, 0], [122.95, 190], [123.15, 200], [123.35, 260],
  [123.55, 290], [123.7, 300], [123.85, 200], [124.05, 380], [124.25, 300], [124.45, 380], [124.6, 0],
  [124.75, 400], [124.9, 340], [125.05, 420], [125.2, 350], [125.35, 460], [125.5, 360], [125.65, 470],
  [125.8, 370], [125.95, 475], [126.1, 380], [126.25, 470], [126.35, 0], [126.45, 480], [126.6, 380],
  [126.75, 478], [126.9, 385], [127.0, 470], [127.1, 0], [127.2, 472], [127.35, 385], [127.5, 480],
  [127.65, 390], [127.8, 482], [127.95, 395], [128.1, 485], [128.3, 0], [128.4, 530], [128.55, 450],
  [128.7, 535], [128.85, 455], [129.0, 540], [129.15, 460], [129.3, 545], [129.45, 600], [129.6, 505],
  [129.75, 605], [129.9, 510], [130.05, 610], [130.2, 245], [130.3, 650], [130.45, 520], [130.6, 612],
  [130.75, 525], [130.9, 615], [131.05, 530], [131.2, 620], [131.3, 0], [131.4, 645], [131.55, 560],
  [131.7, 650], [131.8, 0], [131.9, 660], [132.05, 565], [132.2, 655], [132.3, 0], [132.4, 650],
  [132.55, 570], [132.7, 660], [132.8, 0], [132.9, 662], [133.05, 550], [133.2, 660], [133.35, 580],
  [133.5, 665], [133.6, 0], [133.7, 680], [133.85, 600], [134.0, 665], [134.15, 790], [134.3, 600],
  [134.5, 810], [134.7, 820], [135.2, 825], [136.2, 830], [136.3, 405], [136.4, 830], [137.1, 830],
  [137.2, 0], [137.35, 820], [137.55, 400], [137.7, 820], [137.85, 0], [138.0, 800], [138.15, 0],
  [138.3, 780], [138.45, 0], [138.6, 790], [138.8, 70], [138.95, 780], [139.15, 790], [139.5, 800],
  [139.85, 795], [140.0, 390], [140.15, 800], [140.75, 800], [140.85, 380], [140.95, 800], [141.15, 800],
  [141.25, 355], [141.35, 800], [141.6, 800], [141.7, 0], [141.85, 795], [142.45, 800], [142.55, 20],
  [142.65, 40], [142.8, 810], [144.5, 812], [144.6, 760], [144.7, 810], [145.3, 812], [145.45, 0],
  [146.55, 0], [146.65, 815], [148.8, 818], [148.9, 645], [149.0, 818], [151.0, 818],
]
const beamJun: [number, number][] = [
  [153.3, 818], [153.4, 0], [153.6, 818], [153.7, 390], [153.8, 818], [155.0, 818], [155.1, 670],
  [155.2, 818], [155.9, 818], [156.0, 400], [156.1, 818], [156.4, 818], [156.5, 630], [156.6, 818],
  [157.5, 818], [157.6, 395], [157.7, 818], [158.0, 820], [158.1, 835], [158.2, 818], [158.3, 818],
  [158.4, 10], [158.5, 818], [158.8, 818], [158.9, 610], [159.0, 818], [159.5, 818], [159.6, 400],
  [159.7, 818], [160.9, 818], [161.0, 20], [161.1, 818], [162.2, 818], [162.3, 0], [162.45, 818],
  [162.55, 0], [162.7, 390], [162.85, 818], [164.2, 818], [164.3, 0], [165.05, 0], [165.15, 815],
  [165.9, 815], [166.0, 410], [166.1, 815], [167.1, 815], [167.2, 570], [167.3, 815], [168.4, 815],
  [168.5, 375], [168.6, 815], [168.8, 815], [168.9, 385], [169.0, 815], [169.2, 815], [169.3, 0],
  [169.4, 815], [171.6, 815], [171.7, 300], [171.8, 815], [172.9, 815], [173.0, 0], [173.1, 815],
  [174.2, 815], [174.3, 580], [174.4, 815], [174.7, 815], [174.8, 405],
]

const dayOf = (iso: string) => (Date.parse(iso) - Date.parse('2020-01-01')) / 86400000
const monthTicks = monthStarts.map(dayOf)
const dailyTicks: number[] = []
for (let d = Math.ceil(X_DOMAIN[0]); d <= Math.floor(X_DOMAIN[1]); d++) dailyTicks.push(d)

type Pt = { x: number; y: number }
const runPoints = (start: number, values: number[]): Pt[] => values.map((y, i) => ({ x: start + i, y }))
const pairPoints = (pairs: [number, number][]): Pt[] => pairs.map(([x, y]) => ({ x, y }))
const seriesPoints = (r1a: number[], r1b: number[], r2a: number[], r2b: number[], extra: [number, number][]) => [
  ...runPoints(firstRunStart, r1a),
  ...runPoints(firstRunStart + 0.5, r1b),
  ...runPoints(secondRunStart, r2a),
  ...runPoints(secondRunStart + 0.5, r2b),
  ...pairPoints(extra),
]

type MarkerKind = 'square' | 'circle' | 'plus' | 'diamond' | 'left' | 'right'

const tigers: { name: string; color: string; kind: MarkerKind; data: Pt[] }[] = [
  { name: 'Tiger 0', color: '#1f77b4', kind: 'square', data: seriesPoints(tiger0Run1a, tiger0Run1b, tiger0Run2a, tiger0Run2b, tiger0Extra) },
  { name: 'Tiger 1', color: '#ff7f0e', kind: 'circle', data: seriesPoints(tiger1Run1a, tiger1Run1b, tiger1Run2a, tiger1Run2b, tiger1Extra) },
  { name: 'Tiger 2', color: '#2ca02c', kind: 'plus', data: seriesPoints(tiger2Run1a, tiger2Run1b, tiger2Run2a, tiger2Run2b, tiger2Extra) },
  { name: 'Tiger 3', color: '#d62728', kind: 'diamond', data: seriesPoints(tiger3Run1a, tiger3Run1b, tiger3Run2a, tiger3Run2b, tiger3Extra) },
  { name: 'Tiger 4', color: '#9467bd', kind: 'left', data: seriesPoints(tiger4Run1a, tiger4Run1b, tiger4Run2a, tiger4Run2b, tiger4Extra) },
  { name: 'Tiger 5', color: '#8c564b', kind: 'right', data: seriesPoints(tiger5Run1a, tiger5Run1b, tiger5Run2a, tiger5Run2b, tiger5Extra) },
]

const beamData = pairPoints([...beamDec, ...beamJan, ...beamFeb, ...beamMar, ...beamApr, ...beamMay, ...beamJun])

function Marker({ kind, color, cx, cy }: { kind: MarkerKind; color: string; cx: number; cy: number }) {
  if (cx == null || cy == null || isNaN(cx) || isNaN(cy)) return <g />
  switch (kind) {
    case 'square':
      return <rect x={cx - 7} y={cy - 7} width={14} height={14} fill={color} />
    case 'circle':
      return <circle cx={cx} cy={cy} r={7.5} fill={color} />
    case 'plus':
      return <path d={`M${cx - 2.6},${cy - 7.6}h5.2v5h5v5.2h-5v5h-5.2v-5h-5v-5.2h5z`} fill={color} />
    case 'diamond':
      return <path d={`M${cx},${cy - 9.4}L${cx + 8.8},${cy}L${cx},${cy + 9.4}L${cx - 8.8},${cy}Z`} fill={color} />
    case 'left':
      return <path d={`M${cx - 8.4},${cy}L${cx + 8.4},${cy - 8.4}L${cx + 8.4},${cy + 8.4}Z`} fill={color} />
    default:
      return <path d={`M${cx + 8.4},${cy}L${cx - 8.4},${cy - 8.4}L${cx - 8.4},${cy + 8.4}Z`} fill={color} />
  }
}

const axisText = { fontSize: 63, fill: '#000', fontFamily: FONT }
const tickStroke = { stroke: '#000', strokeWidth: 3.3 }

function MonthTick(props: any) {
  const { x, y, payload } = props
  const i = monthTicks.indexOf(payload.value)
  return (
    <text
      transform={`translate(${x},${y}) rotate(-90)`}
      textAnchor="end"
      dominantBaseline="central"
      fontSize={63}
      fontFamily={FONT}
      fill="#000"
    >
      {monthLabels[i]}
    </text>
  )
}

function TigerLegend() {
  return (
    <div
      style={{
        width: 471,
        height: 603,
        boxSizing: 'border-box',
        border: '3.3px solid #d9d9d9',
        borderRadius: 14,
        background: 'rgba(255,255,255,0.8)',
        position: 'relative',
        fontFamily: FONT,
        fontSize: 64,
        color: '#000',
      }}
    >
      {tigers.map((t, i) => (
        <div key={t.name} style={{ position: 'absolute', left: 0, top: 48 + i * 97.6 - 40, height: 80, width: 471 }}>
          <svg width={200} height={80} style={{ position: 'absolute', left: 0, top: 0 }}>
            <Marker kind={t.kind} color={t.color} cx={91} cy={40} />
          </svg>
          <div style={{ position: 'absolute', left: 212, top: 0, height: 80, lineHeight: '80px', whiteSpace: 'nowrap' }}>
            {t.name}
          </div>
        </div>
      ))}
    </div>
  )
}

const beamLegendLines = ['Electron', 'Beam', 'Current', '    +', 'Positron', 'Beam', 'Current']

function BeamLegend() {
  return (
    <div
      style={{
        width: 426,
        height: 559,
        boxSizing: 'border-box',
        border: '3.3px solid #d9d9d9',
        borderRadius: 14,
        background: 'rgba(255,255,255,0.8)',
        position: 'relative',
        fontFamily: FONT,
        fontSize: 64,
        color: '#000',
      }}
    >
      <svg width={200} height={559} style={{ position: 'absolute', left: 0, top: 0 }}>
        <line x1={24} x2={158} y1={278} y2={278} stroke="#1f77b4" strokeWidth={6} />
        <line x1={91} x2={91} y1={240} y2={315} stroke="#ff0000" strokeWidth={2.5} />
      </svg>
      {beamLegendLines.map((t, i) => (
        <div
          key={i}
          style={{ position: 'absolute', left: 212, top: 52 + i * 74 - 40, height: 80, lineHeight: '80px', whiteSpace: 'pre' }}
        >
          {t}
        </div>
      ))}
    </div>
  )
}

export default function App() {
  // the window the page gets may differ from the reference size: stretch the 4790x2717 layout to fill it
  const vw = typeof window !== 'undefined' ? window.innerWidth : CHART_W
  const vh = typeof window !== 'undefined' ? window.innerHeight : CHART_H
  const sx = vw / CHART_W
  const sy = vh / CHART_H

  return (
    <div style={{ position: 'absolute', left: 0, top: 0, width: vw, height: vh, overflow: 'hidden', background: '#fff' }}>
      <div
        style={{
          position: 'absolute',
          left: 0,
          top: 0,
          width: CHART_W,
          height: CHART_H,
          background: '#fff',
          fontFamily: FONT,
          transform: `scale(${sx}, ${sy})`,
          transformOrigin: '0 0',
        }}
      >
        <div style={{ position: 'absolute', left: 0, top: 0 }}>
          <ScatterChart width={CHART_W} height={CHART_H} margin={{ top: 152, right: 613, bottom: 1523, left: 256 }}>
            <CartesianGrid stroke="#b0b0b0" strokeWidth={3.3} />
            <XAxis
              type="number"
              dataKey="x"
              domain={X_DOMAIN}
              allowDataOverflow
              ticks={monthTicks}
              interval={0}
              height={0}
              tick={false}
              tickLine={false}
              axisLine={false}
            />
            <YAxis
              type="number"
              dataKey="y"
              domain={[0.5, 1.5]}
              allowDataOverflow
              ticks={noiseTicks}
              interval={0}
              width={200}
              tick={axisText}
              tickLine={tickStroke}
              tickSize={14.6}
              tickMargin={14}
              axisLine={false}
              tickFormatter={(v: number) => v.toFixed(1)}
            >
              <Label
                content={() => (
                  <text transform="translate(296,673) rotate(-90)" textAnchor="middle" fontSize={63} fontFamily={FONT} fill="#000">
                    TIGER Noise Level (fC)
                  </text>
                )}
              />
              <Label
                content={() => (
                  <text x={2316} y={94} textAnchor="middle" fontSize={79} fontFamily={FONT} fill="#000">
                    TIGER Noise Level and Electron Beam Current + Positron Beam Current VS Time (E-Branch)
                  </text>
                )}
              />
            </YAxis>
            {tigers.map((t) => (
              <Scatter
                key={t.name}
                name={t.name}
                data={t.data}
                fill={t.color}
                isAnimationActive={false}
                shape={(p: any) => <Marker kind={t.kind} color={t.color} cx={p.cx} cy={p.cy} />}
              />
            ))}
            <ReferenceArea x1={X_DOMAIN[0]} x2={X_DOMAIN[1]} y1={0.5} y2={1.5} fill="none" stroke="#000" strokeWidth={3.3} ifOverflow="visible" />
            <Legend
              layout="vertical"
              align="center"
              verticalAlign="middle"
              content={() => <TigerLegend />}
              wrapperStyle={{ left: 4247, top: 188, width: 471, height: 603 }}
            />
          </ScatterChart>
        </div>
        <div style={{ position: 'absolute', left: 0, top: 0 }}>
          <LineChart width={CHART_W} height={CHART_H} margin={{ top: 1194, right: 613, bottom: 483, left: 256 }}>
            <CartesianGrid xAxisId="months" stroke="#b0b0b0" strokeWidth={3.3} />
            <XAxis
              type="number"
              dataKey="x"
              domain={X_DOMAIN}
              allowDataOverflow
              ticks={dailyTicks}
              interval={0}
              height={1}
              tick={false}
              tickSize={8.3}
              tickLine={{ stroke: '#000', strokeWidth: 2.5 }}
              axisLine={false}
            />
            <XAxis
              xAxisId="months"
              type="number"
              dataKey="x"
              domain={X_DOMAIN}
              allowDataOverflow
              ticks={monthTicks}
              interval={0}
              height={1}
              tickSize={14.6}
              tickMargin={22}
              tickLine={tickStroke}
              axisLine={false}
              tick={(p: any) => <MonthTick {...p} />}
            >
              <Label
                content={() => (
                  <text x={2316} y={2672} textAnchor="middle" fontSize={63} fontFamily={FONT} fill="#000">
                    Time
                  </text>
                )}
              />
            </XAxis>
            <YAxis
              type="number"
              dataKey="y"
              domain={[-8.7, 1000]}
              allowDataOverflow
              ticks={beamTicks}
              interval={0}
              width={200}
              tick={axisText}
              tickLine={tickStroke}
              tickSize={14.6}
              tickMargin={14}
              axisLine={false}
            >
              <Label
                content={() => (
                  <text transform="translate(0,1712) rotate(-90)" textAnchor="middle" fontSize={63} fontFamily={FONT} fill="#000">
                    <tspan x={0} y={82}>Electron Beam Current</tspan>
                    <tspan x={0} y={156}>+</tspan>
                    <tspan x={0} y={230}>Positron Beam Current (mA)</tspan>
                  </text>
                )}
              />
            </YAxis>
            <Line
              data={beamData}
              dataKey="y"
              type="linear"
              stroke="#1f77b4"
              strokeWidth={6}
              dot={false}
              isAnimationActive={false}
            />
            <ReferenceArea x1={X_DOMAIN[0]} x2={X_DOMAIN[1]} y1={-8.7} y2={1000} fill="none" stroke="#000" strokeWidth={3.3} ifOverflow="visible" />
            <Legend
              layout="vertical"
              align="center"
              verticalAlign="middle"
              content={() => <BeamLegend />}
              wrapperStyle={{ left: 4248, top: 1225, width: 426, height: 559 }}
            />
          </LineChart>
        </div>
      </div>
    </div>
  )
}
